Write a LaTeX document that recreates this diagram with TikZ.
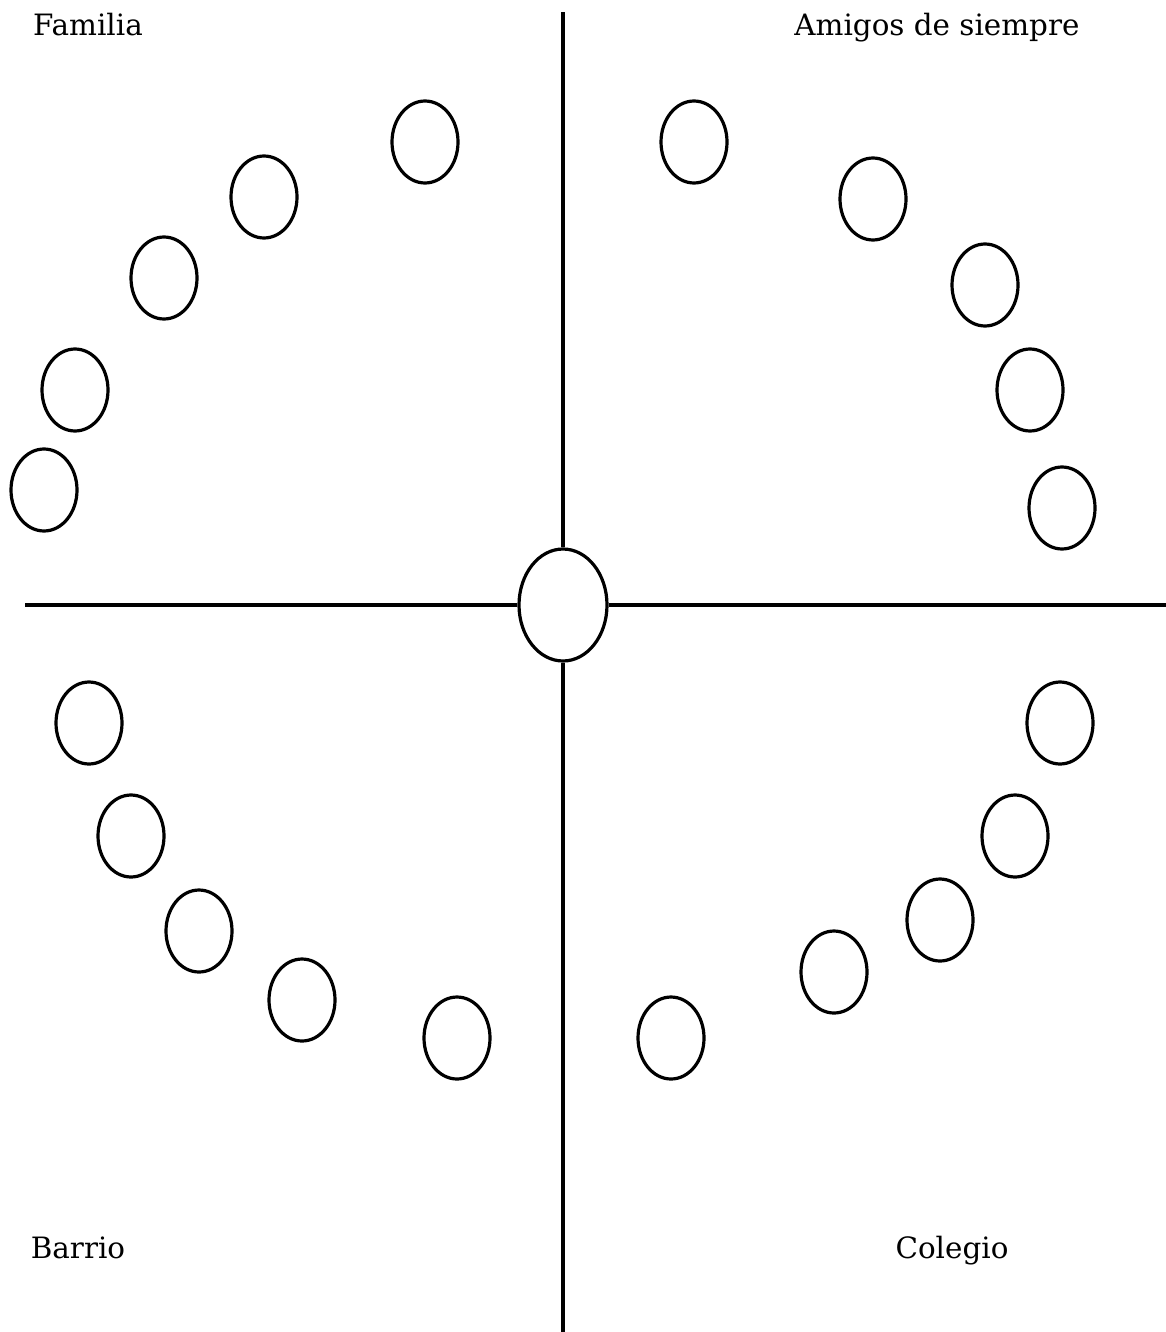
\documentclass[tikz,border=0pt]{standalone}
\usepackage{fontspec}
\setmainfont{DejaVu Serif}
\usetikzlibrary{shapes.geometric}

\begin{document}
\begin{tikzpicture}[x=0.5pt,y=-0.5pt,
 friend/.style={draw,ellipse,line width=1.6pt,minimum width=33pt,minimum height=41pt,inner sep=0pt},
 me/.style={draw,ellipse,line width=1.6pt,minimum width=44pt,minimum height=56pt,inner sep=0pt},
 axis/.style={line width=1.6pt},
 label/.style={font=\fontsize{14.7}{17}\selectfont,inner sep=0pt}]
\useasboundingbox (0,0) rectangle (1166,1332);
\node[me] (yo) at (563,605) {};
\coordinate (top) at (563,12);
\coordinate (bottom) at (563,1332);
\coordinate (left) at (25,605);
\coordinate (right) at (1166,605);
\draw[axis] (yo) -- (top);
\draw[axis] (yo) -- (bottom);
\draw[axis] (yo) -- (left);
\draw[axis] (yo) -- (right);
% quadrants
\node[label] (familia) at (88,25) {Familia};
\node[label] (amigos) at (937,28) {Amigos de siempre};
\node[label] (barrio) at (78,1248) {Barrio};
\node[label] (colegio) at (952,1251) {Colegio};
% circles
\foreach \px/\py [count=\i] in {425/142,264/197,164/278,75/390,44/490}
  \node[friend] (fam\i) at (\px,\py) {};
\foreach \px/\py [count=\i] in {694/142,873/199,985/285,1030/390,1062/508}
  \node[friend] (ami\i) at (\px,\py) {};
\foreach \px/\py [count=\i] in {89/723,131/836,199/931,302/1000,457/1038}
  \node[friend] (bar\i) at (\px,\py) {};
\foreach \px/\py [count=\i] in {1060/723,1015/836,940/920,834/972,671/1038}
  \node[friend] (col\i) at (\px,\py) {};
\end{tikzpicture}
\end{document}
